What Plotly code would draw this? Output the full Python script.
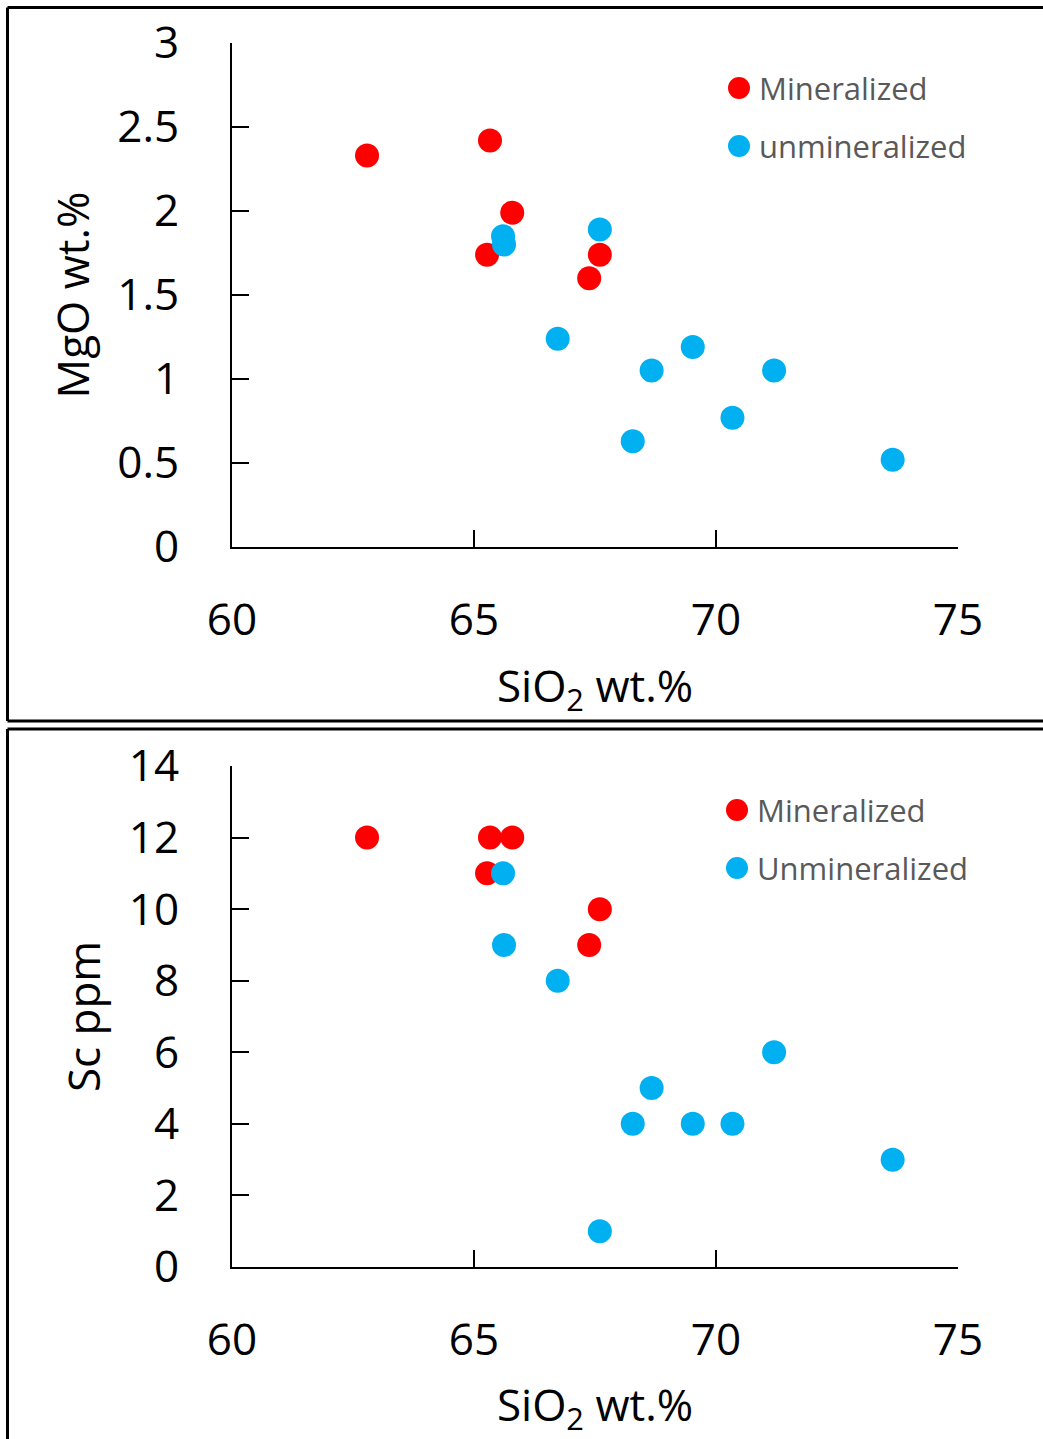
import plotly.graph_objects as go

# ---------------- data ----------------
series_names_top = ["Mineralized", "unmineralized"]
series_names_bot = ["Mineralized", "Unmineralized"]
series_colors = ["#FF0000", "#00B0F0"]

sio2_min = [62.79, 65.33, 65.79, 65.27, 67.60, 67.38]
mgo_min = [2.33, 2.42, 1.99, 1.74, 1.74, 1.60]
sc_min = [12, 12, 12, 11, 10, 9]

sio2_unmin = [65.60, 65.62, 66.73, 67.60, 68.28, 68.67, 69.52, 70.34, 71.20, 73.65]
mgo_unmin = [1.85, 1.80, 1.24, 1.89, 0.63, 1.05, 1.19, 0.77, 1.05, 0.52]
sc_unmin = [11, 9, 8, 1, 4, 5, 4, 4, 6, 3]

x_ticks = [60, 65, 70, 75]
x_ticktext = ["60", "65", "70", "75"]
mgo_ticks = [0, 0.5, 1, 1.5, 2, 2.5, 3]
mgo_ticktext = ["0", "0.5", "1", "1.5", "2", "2.5", "3"]
sc_ticks = [0, 2, 4, 6, 8, 10, 12, 14]
sc_ticktext = ["0", "2", "4", "6", "8", "10", "12", "14"]

x_title = "SiO<sub>2</sub> wt.%"
y_title_top = "MgO wt.%"
y_title_bot = "Sc ppm"

# ---------------- layout helpers ----------------
W, H = 1043, 1439
FONT = "Open Sans"


def px(x):
    return x / W


def py(y):
    return 1 - y / H


fig = go.Figure()

# top panel
fig.add_trace(go.Scatter(x=sio2_min, y=mgo_min, mode="markers", name=series_names_top[0],
                         marker=dict(size=24, color=series_colors[0]), xaxis="x", yaxis="y"))
fig.add_trace(go.Scatter(x=sio2_unmin, y=mgo_unmin, mode="markers", name=series_names_top[1],
                         marker=dict(size=24, color=series_colors[1]), xaxis="x", yaxis="y"))
# bottom panel
fig.add_trace(go.Scatter(x=sio2_min, y=sc_min, mode="markers", name=series_names_bot[0],
                         marker=dict(size=24, color=series_colors[0]), xaxis="x2", yaxis="y2"))
fig.add_trace(go.Scatter(x=sio2_unmin, y=sc_unmin, mode="markers", name=series_names_bot[1],
                         marker=dict(size=24, color=series_colors[1]), xaxis="x2", yaxis="y2"))

title_font = dict(family=FONT, size=44, color="black")
axis_common = dict(
    ticks="inside", ticklen=17, tickwidth=2, tickcolor="black",
    showline=True, linecolor="black", linewidth=2,
    showgrid=False, zeroline=False, automargin=False,
    tickfont=dict(family=FONT, size=44, color="black"),
)

xdom = [px(232), px(958)]

fig.update_layout(
    width=W, height=H, autosize=False,
    margin=dict(l=0, r=0, t=0, b=0, pad=0),
    paper_bgcolor="white", plot_bgcolor="white",
    font=dict(family=FONT),
    showlegend=False,
    xaxis=dict(domain=xdom, range=[60, 75], tickvals=x_ticks, ticktext=x_ticktext,
               anchor="y", ticklabelstandoff=33,
               title=dict(text=x_title, font=title_font, standoff=24), **axis_common),
    yaxis=dict(domain=[py(547), py(43)], range=[0, 3], tickvals=mgo_ticks, ticktext=mgo_ticktext,
               anchor="x", ticklabelstandoff=42,
               title=dict(text=y_title_top, font=title_font, standoff=14), **axis_common),
    xaxis2=dict(domain=xdom, range=[60, 75], tickvals=x_ticks, ticktext=x_ticktext,
                anchor="y2", ticklabelstandoff=33,
                title=dict(text=x_title, font=title_font, standoff=24), **axis_common),
    yaxis2=dict(domain=[py(1267), py(766)], range=[0, 14], tickvals=sc_ticks, ticktext=sc_ticktext,
                anchor="x2", ticklabelstandoff=42,
                title=dict(text=y_title_bot, font=title_font, standoff=14), **axis_common),
)

# manual legends (symbol circles + labels)
annotations = []
shapes = []
legend_font = dict(family=FONT, size=31, color="#595959")
legend_spec = [
    (739, [88, 146], 757, series_names_top),
    (737, [810, 868], 755, series_names_bot),
]
for cx, cys, tx, names in legend_spec:
    for cy, name, col in zip(cys, names, series_colors):
        r = 11
        shapes.append(dict(type="circle", xref="paper", yref="paper",
                           x0=px(cx - r), x1=px(cx + r), y0=py(cy + r), y1=py(cy - r),
                           fillcolor=col, line=dict(width=0)))
        annotations.append(dict(x=px(tx), y=py(cy), text=name, showarrow=False,
                                xref="paper", yref="paper", xanchor="left", yanchor="middle",
                                font=legend_font))

# panel frames
frame = dict(color="black", width=3)
for (x0, y0, x1, y1) in [
    (7.5, 7.5, 1043, 7.5), (7.5, 7.5, 7.5, 721), (7.5, 721, 1043, 721),
    (7.5, 729, 1043, 729), (7.5, 729, 7.5, 1439),
]:
    shapes.append(dict(type="line", xref="paper", yref="paper",
                       x0=px(x0), y0=py(y0), x1=px(x1), y1=py(y1), line=frame))

fig.update_layout(annotations=annotations, shapes=shapes)

fig.write_html("out.html", post_script="document.body.style.margin='0';",
               config={"displayModeBar": False})
